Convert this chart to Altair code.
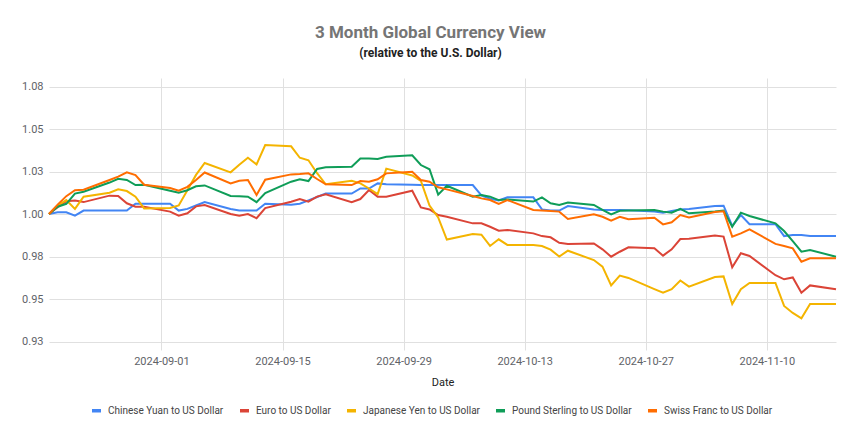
import altair as alt
import pandas as pd

dates = [
    "2024-08-19", "2024-08-20", "2024-08-21", "2024-08-22", "2024-08-23",
    "2024-08-26", "2024-08-27", "2024-08-28", "2024-08-29", "2024-08-30",
    "2024-09-02", "2024-09-03", "2024-09-04", "2024-09-05", "2024-09-06",
    "2024-09-09", "2024-09-10", "2024-09-11", "2024-09-12", "2024-09-13",
    "2024-09-16", "2024-09-17", "2024-09-18", "2024-09-19", "2024-09-20",
    "2024-09-23", "2024-09-24", "2024-09-25", "2024-09-26", "2024-09-27",
    "2024-09-30", "2024-10-01", "2024-10-02", "2024-10-03", "2024-10-04",
    "2024-10-07", "2024-10-08", "2024-10-09", "2024-10-10", "2024-10-11",
    "2024-10-14", "2024-10-15", "2024-10-16", "2024-10-17", "2024-10-18",
    "2024-10-21", "2024-10-22", "2024-10-23", "2024-10-24", "2024-10-25",
    "2024-10-28", "2024-10-29", "2024-10-30", "2024-10-31", "2024-11-01",
    "2024-11-04", "2024-11-05", "2024-11-06", "2024-11-07", "2024-11-08",
    "2024-11-11", "2024-11-12", "2024-11-13", "2024-11-14", "2024-11-15",
    "2024-11-18",
]

cny = [
    1.000, 1.001, 1.001, 0.999, 1.002,
    1.002, 1.002, 1.002, 1.006, 1.006,
    1.006, 1.002, 1.003, 1.005, 1.007,
    1.003, 1.002, 1.002, 1.002, 1.006,
    1.0055, 1.006, 1.008, 1.010, 1.012,
    1.012, 1.015, 1.015, 1.018, 1.0175,
    1.0172, 1.017, 1.017, 1.017, 1.017,
    1.017, 1.011, 1.009, 1.008, 1.0098,
    1.0098, 1.0027, 1.002, 1.002, 1.0047,
    1.0027, 1.0024, 1.0024, 1.0024, 1.0022,
    1.0014, 1.0008, 1.0018, 1.0027, 1.003,
    1.0047, 1.0049, 0.993, 0.9994, 0.994,
    0.994, 0.987, 0.9876, 0.9876, 0.987,
    0.987,
]

eur = [
    1.000, 1.004, 1.0075, 1.008, 1.007,
    1.0108, 1.0106, 1.0063, 1.0043, 1.0043,
    1.0014, 0.999, 1.0004, 1.0045, 1.0053,
    1.000, 0.999, 1.000, 0.9975, 1.0035,
    1.0072, 1.0088, 1.0073, 1.0102, 1.0116,
    1.0069, 1.0088, 1.0141, 1.0102, 1.0102,
    1.0137, 1.0039, 1.0027, 0.9994, 0.9984,
    0.9945, 0.9945, 0.9925, 0.9902, 0.9906,
    0.9886, 0.987, 0.9863, 0.9831, 0.9824,
    0.9827, 0.9792, 0.9749, 0.9778, 0.9804,
    0.9798, 0.9755, 0.9792, 0.9853, 0.9855,
    0.9873, 0.9867, 0.9686, 0.9769, 0.9753,
    0.964, 0.9616, 0.9627, 0.9537, 0.958,
    0.9557,
]

jpy = [
    1.000, 1.005, 1.0082, 1.003, 1.0102,
    1.0125, 1.0145, 1.0135, 1.0102, 1.0033,
    1.0035, 1.005, 1.014, 1.023, 1.030,
    1.0245, 1.029, 1.0331, 1.0292, 1.0406,
    1.0398, 1.0331, 1.0316, 1.024, 1.0175,
    1.0195, 1.018, 1.015, 1.0117, 1.0267,
    1.0227, 1.0195, 1.005, 0.998, 0.985,
    0.9882, 0.9878, 0.9812, 0.9851, 0.9818,
    0.9818, 0.9812, 0.979, 0.975, 0.9784,
    0.9729, 0.969, 0.958, 0.9638, 0.9624,
    0.9558, 0.9537, 0.9558, 0.9609, 0.9573,
    0.9629, 0.9633, 0.947, 0.9558, 0.9594,
    0.9594, 0.9459, 0.9418, 0.9386, 0.947,
    0.947,
]

gbp = [
    1.000, 1.0043, 1.006, 1.012, 1.0131,
    1.0185, 1.0207, 1.020, 1.017, 1.0172,
    1.0137, 1.0125, 1.014, 1.0163, 1.0168,
    1.0106, 1.0104, 1.0102, 1.007, 1.0123,
    1.019, 1.0204, 1.0194, 1.0265, 1.0275,
    1.0278, 1.0327, 1.0327, 1.0324, 1.0337,
    1.0345, 1.0288, 1.0263, 1.0114, 1.0166,
    1.0102, 1.0112, 1.0102, 1.0082, 1.0086,
    1.0073, 1.0098, 1.0063, 1.0053, 1.0067,
    1.0053, 1.0024, 0.9998, 1.0019, 1.002,
    1.0024, 1.0014, 1.0008, 1.003, 1.0004,
    1.0015, 1.002, 0.9925, 1.0008, 0.9988,
    0.9945, 0.990, 0.984, 0.9778, 0.9788,
    0.9749,
]

chf = [
    1.000, 1.0055, 1.0105, 1.014, 1.0143,
    1.020, 1.022, 1.0245, 1.0229, 1.0172,
    1.0153, 1.0137, 1.016, 1.020, 1.0244,
    1.018, 1.0196, 1.020, 1.0112, 1.0202,
    1.0233, 1.0235, 1.0239, 1.0206, 1.0175,
    1.017, 1.0194, 1.019, 1.0204, 1.0239,
    1.0249, 1.020, 1.019, 1.0157, 1.0145,
    1.0106, 1.0092, 1.0082, 1.0059, 1.0082,
    1.0024, 1.002, 1.0017, 1.0014, 0.9971,
    0.9998, 0.9984, 0.9961, 0.9984, 0.9969,
    0.9978, 0.9939, 0.9951, 0.9994, 0.998,
    1.0012, 1.0016, 0.9867, 0.9886, 0.991,
    0.9824, 0.9812, 0.9798, 0.9719, 0.9739,
    0.9739,
]

series_names = [
    "Chinese Yuan to US Dollar",
    "Euro to US Dollar",
    "Japanese Yen to US Dollar",
    "Pound Sterling to US Dollar",
    "Swiss Franc to US Dollar",
]
series_colors = ["#4285F4", "#DB4437", "#F4B400", "#0F9D58", "#FF6D01"]
y_ticks = [0.925, 0.95, 0.975, 1.0, 1.025, 1.05, 1.075]
y_domain = [0.92, 1.08]
x_ticks = ["2024-09-01", "2024-09-15", "2024-09-29", "2024-10-13", "2024-10-27", "2024-11-10"]

rows = []
for name, vals in zip(series_names, [cny, eur, jpy, gbp, chf]):
    for d, v in zip(dates, vals):
        rows.append({"Date": d, "Currency": name, "Value": v})
df = pd.DataFrame(rows)

x_tick_values = []
for s in x_ticks:
    y_, m_, d_ = (int(p) for p in s.split("-"))
    x_tick_values.append(alt.DateTime(year=y_, month=m_, date=d_, utc=True))

FONT = "Roboto"

chart = (
    alt.Chart(df)
    .mark_line(strokeWidth=2)
    .encode(
        x=alt.X(
            "Date:T",
            scale=alt.Scale(type="utc", nice=False),
            axis=alt.Axis(
                values=x_tick_values,
                format="%Y-%m-%d",
                labelAngle=0,
                title="Date",
                titleFontWeight="normal",
                titleColor="#222222",
                titleFontSize=11,
                titlePadding=10,
                labelPadding=5,
                labelFontSize=11,
            ),
        ),
        y=alt.Y(
            "Value:Q",
            scale=alt.Scale(domain=y_domain, nice=False, zero=False),
            axis=alt.Axis(
                values=y_ticks,
                labelExpr="format(datum.value + 0.000001, '.2f')",
                title=None,
                labelPadding=6,
                labelFontSize=11,
            ),
        ),
        color=alt.Color(
            "Currency:N",
            scale=alt.Scale(domain=series_names, range=series_colors),
            legend=alt.Legend(
                orient="none",
                legendX=41,
                legendY=326,
                direction="horizontal",
                title=None,
                symbolType="stroke",
                symbolStrokeWidth=3.5,
                symbolSize=81,
                labelFontSize=10,
                labelColor="#444444",
                labelFont=FONT,
                columnPadding=9,
                labelOffset=5,
            ),
        ),
    )
    .properties(
        width=787,
        height=272,
        autosize=alt.AutoSizeParams(type="none"),
        padding={"left": 41, "top": 70, "right": 16, "bottom": 81},
        title=alt.TitleParams(
            text="3 Month Global Currency View",
            subtitle="(relative to the U.S. Dollar)",
            fontSize=17,
            fontWeight="bold",
            color="#757575",
            font=FONT,
            subtitleFont=FONT,
            subtitleFontSize=12,
            subtitleFontWeight="bold",
            subtitleColor="#222222",
            anchor="middle",
            dx=-12,
            offset=18,
            subtitlePadding=6,
        ),
    )
    .configure(font=FONT)
    .configure_view(stroke=None)
    .configure_axis(
        gridColor="#e0e0e0",
        domain=False,
        ticks=False,
        labelColor="#5f6368",
        labelFont=FONT,
        titleFont=FONT,
    )
)

chart.save("out.html", embed_options={"renderer": "svg", "actions": False})
